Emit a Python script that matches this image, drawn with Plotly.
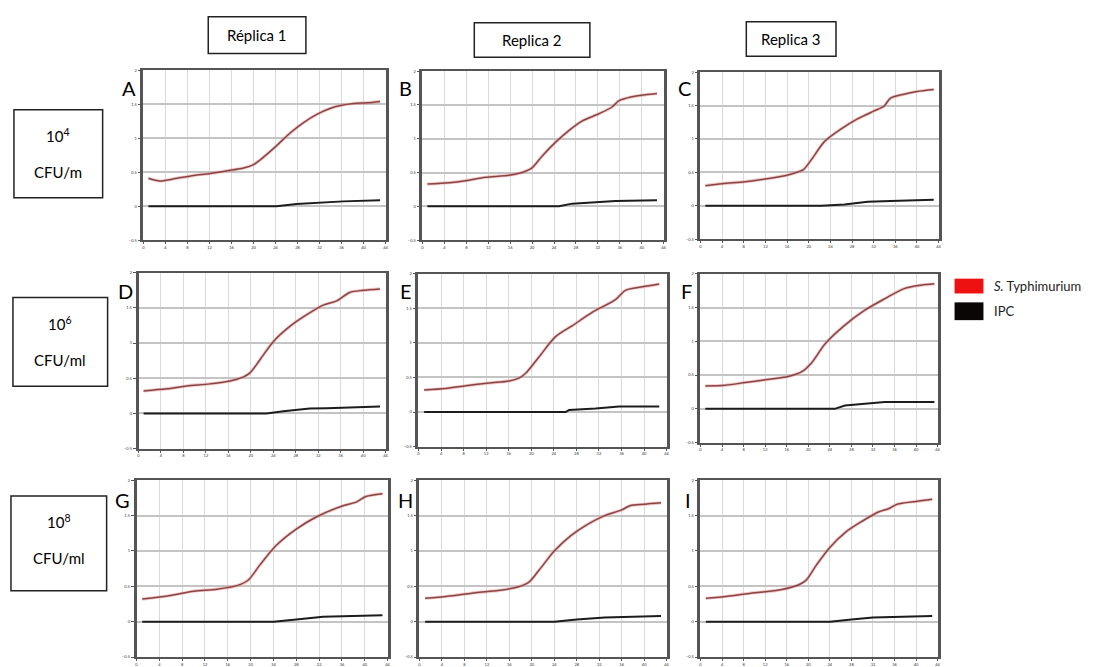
import plotly.graph_objects as go

# ---------------- data ----------------
panel_letters = ["A", "B", "C", "D", "E", "F", "G", "H", "I"]
column_titles = ["Réplica 1", "Replica 2", "Replica 3"]
row_exponents = ["4", "6", "8"]
row_units = ["CFU/m", "CFU/ml", "CFU/ml"]
series_names = ["S. Typhimurium", "IPC"]

x_tick_vals = [0, 4, 8, 12, 16, 20, 24, 28, 32, 36, 40, 44]
y_tick_vals = [-0.5, 0, 0.5, 1.0, 1.5, 2.0]

a_red_x = [0.9, 3.0, 6.1, 9.1, 12.1, 15.2, 18.2, 20.0, 21.8, 24.2, 26.7, 29.1, 31.5, 34.0, 35.8, 38.2, 40.6, 43.0]
a_red_y = [0.41, 0.37, 0.41, 0.45, 0.48, 0.52, 0.56, 0.61, 0.72, 0.89, 1.08, 1.23, 1.35, 1.44, 1.48, 1.51, 1.52, 1.54]
a_ipc_x = [0.9, 24.2, 27.8, 32.0, 36.3, 43.0]
a_ipc_y = [0.0, 0.0, 0.03, 0.05, 0.07, 0.085]

b_red_x = [0.9, 4.9, 7.9, 11.5, 15.8, 18.8, 20.0, 21.9, 24.3, 26.7, 29.1, 32.2, 34.6, 35.8, 38.2, 40.7, 42.8]
b_red_y = [0.33, 0.35, 0.38, 0.43, 0.46, 0.52, 0.57, 0.75, 0.95, 1.12, 1.26, 1.37, 1.47, 1.56, 1.62, 1.65, 1.67]
b_ipc_x = [0.9, 24.9, 27.3, 31.0, 35.2, 42.8]
b_ipc_y = [0.0, 0.0, 0.04, 0.06, 0.08, 0.09]

c_red_x = [0.9, 4.0, 8.3, 11.9, 15.6, 17.4, 19.0, 20.5, 22.9, 26.0, 29.0, 32.1, 33.9, 35.1, 37.6, 40.0, 43.1]
c_red_y = [0.30, 0.33, 0.36, 0.40, 0.45, 0.49, 0.54, 0.69, 0.96, 1.15, 1.30, 1.42, 1.49, 1.61, 1.67, 1.71, 1.74]
c_ipc_x = [0.9, 22.3, 26.6, 30.9, 35.1, 43.1]
c_ipc_y = [0.0, 0.0, 0.02, 0.06, 0.07, 0.09]

d_red_x = [0.9, 5.0, 8.6, 12.7, 16.3, 18.7, 19.9, 21.6, 24.0, 27.0, 29.9, 32.9, 35.3, 37.6, 40.0, 43.0]
d_red_y = [0.32, 0.35, 0.39, 0.42, 0.46, 0.52, 0.58, 0.76, 1.02, 1.24, 1.40, 1.54, 1.60, 1.72, 1.75, 1.77]
d_ipc_x = [0.9, 22.8, 25.8, 30.5, 33.5, 43.0]
d_ipc_y = [0.0, 0.0, 0.03, 0.07, 0.075, 0.10]

e_red_x = [1.0, 4.8, 8.4, 12.5, 16.1, 17.8, 19.0, 21.4, 24.3, 27.3, 30.8, 35.0, 36.7, 39.7, 42.7]
e_red_y = [0.32, 0.34, 0.38, 0.42, 0.45, 0.49, 0.56, 0.80, 1.09, 1.25, 1.44, 1.63, 1.76, 1.81, 1.85]
e_ipc_x = [1.0, 26.1, 26.7, 31.4, 35.6, 42.7]
e_ipc_y = [0.0, 0.0, 0.03, 0.05, 0.08, 0.08]

f_red_x = [0.9, 4.6, 8.3, 12.0, 16.3, 18.8, 20.6, 23.1, 26.8, 30.5, 34.2, 37.8, 40.9, 43.4]
f_red_y = [0.34, 0.35, 0.39, 0.43, 0.48, 0.55, 0.68, 0.96, 1.24, 1.46, 1.63, 1.78, 1.83, 1.85]
f_ipc_x = [0.9, 24.9, 26.8, 30.5, 34.2, 43.4]
f_ipc_y = [0.0, 0.0, 0.05, 0.07, 0.10, 0.10]

g_red_x = [1.0, 5.9, 10.0, 14.1, 17.6, 19.6, 21.6, 24.5, 28.0, 31.5, 36.2, 38.5, 40.2, 43.1]
g_red_y = [0.32, 0.37, 0.43, 0.46, 0.51, 0.59, 0.80, 1.08, 1.31, 1.48, 1.64, 1.69, 1.77, 1.81]
g_ipc_x = [1.0, 24.0, 28.0, 32.7, 43.1]
g_ipc_y = [0.0, 0.0, 0.03, 0.07, 0.09]

h_red_x = [1.0, 5.0, 10.0, 14.0, 17.5, 19.5, 21.5, 24.0, 27.0, 30.0, 33.0, 36.0, 37.5, 40.0, 43.0]
h_red_y = [0.33, 0.36, 0.41, 0.44, 0.49, 0.56, 0.75, 1.00, 1.22, 1.38, 1.50, 1.58, 1.64, 1.66, 1.68]
h_ipc_x = [1.0, 24.0, 28.0, 33.0, 43.0]
h_ipc_y = [0.0, 0.0, 0.03, 0.06, 0.08]

i_red_x = [1.0, 5.0, 10.0, 14.0, 17.5, 19.5, 21.5, 24.0, 27.0, 30.0, 33.0, 35.0, 36.5, 40.0, 43.0]
i_red_y = [0.33, 0.36, 0.41, 0.44, 0.50, 0.58, 0.80, 1.05, 1.27, 1.42, 1.55, 1.60, 1.66, 1.70, 1.73]
i_ipc_x = [1.0, 24.0, 28.0, 32.0, 43.0]
i_ipc_y = [0.0, 0.0, 0.03, 0.06, 0.08]

panels = [
    (a_red_x, a_red_y, a_ipc_x, a_ipc_y), (b_red_x, b_red_y, b_ipc_x, b_ipc_y), (c_red_x, c_red_y, c_ipc_x, c_ipc_y),
    (d_red_x, d_red_y, d_ipc_x, d_ipc_y), (e_red_x, e_red_y, e_ipc_x, e_ipc_y), (f_red_x, f_red_y, f_ipc_x, f_ipc_y),
    (g_red_x, g_red_y, g_ipc_x, g_ipc_y), (h_red_x, h_red_y, h_ipc_x, h_ipc_y), (i_red_x, i_red_y, i_ipc_x, i_ipc_y),
]

# ---------------- layout geometry (pixels) ----------------
W, H = 1113, 667
panel_px = [
    (143, 386, 68, 240), (423, 665, 69, 240), (702, 941, 70, 239),
    (138, 386, 273, 451), (419, 668, 274, 449), (702, 940, 274, 445),
    (136, 388, 483, 662), (420, 668, 483, 662), (702, 940, 483, 662),
]
letter_px = [(128, 86), (406, 86), (686, 86), (125, 292), (406, 292), (688, 292), (122, 503), (406, 503), (689, 503)]

FONT = "Lato"
RED = "#874646"
BLACK = "#1c1c1c"

def px(x):
    return x / W

def py(y):
    return 1 - y / H

fig = go.Figure()
layout = dict(
    width=W, height=H, margin=dict(l=0, r=0, t=0, b=0),
    paper_bgcolor="white", plot_bgcolor="white", showlegend=False,
    font=dict(family=FONT, color="black"),
)
annotations = []
shapes = []

for k, (rx, ry, bx, by) in enumerate(panels):
    n = k + 1
    xa = "x" if n == 1 else f"x{n}"
    ya = "y" if n == 1 else f"y{n}"
    fig.add_trace(go.Scatter(x=bx, y=by, mode="lines",
                             line=dict(color=BLACK, width=2.0),
                             xaxis=xa, yaxis=ya, name=series_names[1], hoverinfo="skip"))
    fig.add_trace(go.Scatter(x=rx, y=ry, mode="lines",
                             line=dict(color="rgba(235,140,140,0.5)", width=3.2, shape="spline", smoothing=0.8),
                             xaxis=xa, yaxis=ya, hoverinfo="skip"))
    fig.add_trace(go.Scatter(x=rx, y=ry, mode="lines",
                             line=dict(color=RED, width=1.5, shape="spline", smoothing=0.8),
                             xaxis=xa, yaxis=ya, name=series_names[0], hoverinfo="skip"))
    x0, x1, y0, y1 = panel_px[k]
    xkey = "xaxis" if n == 1 else f"xaxis{n}"
    ykey = "yaxis" if n == 1 else f"yaxis{n}"
    layout[xkey] = dict(
        domain=[px(x0), px(x1)], anchor=ya, range=[0, 44], tickvals=x_tick_vals,
        showgrid=True, gridcolor="#dadada", gridwidth=1, zeroline=False,
        showline=True, linecolor="#555555", linewidth=2, mirror=True,
        ticks="outside", ticklen=2, tickcolor="#555555",
        tickfont=dict(size=4, color="#333"),
    )
    layout[ykey] = dict(
        domain=[py(y1), py(y0)], anchor=xa, range=[-0.5, 2.0], tickvals=y_tick_vals,
        showgrid=True, gridcolor="#c4c4c4", gridwidth=2, zeroline=False,
        showline=True, linecolor="#555555", linewidth=2.5, mirror=True,
        ticks="outside", ticklen=3, tickcolor="#555555",
        tickfont=dict(size=4, color="#333"),
    )
    lx, ly = letter_px[k]
    annotations.append(dict(x=px(lx), y=py(ly), xref="paper", yref="paper", text=panel_letters[k],
                            showarrow=False, font=dict(size=20, family=FONT, color="black"),
                            xanchor="center", yanchor="middle"))

# column title boxes
col_boxes = [(208, 306, 14, 51), (475, 591, 20, 55), (748, 838, 19, 54)]
for (x0, x1, y0, y1), t in zip(col_boxes, column_titles):
    shapes.append(dict(type="rect", xref="paper", yref="paper", x0=px(x0), x1=px(x1), y0=py(y1), y1=py(y0),
                       line=dict(color="#222", width=1.5), fillcolor="rgba(0,0,0,0)"))
    annotations.append(dict(x=px((x0 + x1) / 2), y=py((y0 + y1) / 2), xref="paper", yref="paper", text=t,
                            showarrow=False, font=dict(size=15, family=FONT, color="black"),
                            xanchor="center", yanchor="middle"))

# row label boxes
row_boxes = [(13, 102, 108, 197), (12, 107, 298, 388), (10, 106, 499, 595)]
for (x0, x1, y0, y1), e, u in zip(row_boxes, row_exponents, row_units):
    shapes.append(dict(type="rect", xref="paper", yref="paper", x0=px(x0), x1=px(x1), y0=py(y1), y1=py(y0),
                       line=dict(color="#222", width=1.5), fillcolor="rgba(0,0,0,0)"))
    cx = (x0 + x1) / 2
    annotations.append(dict(x=px(cx), y=py(y0 + 26), xref="paper", yref="paper", text=f"10<sup>{e}</sup>",
                            showarrow=False, font=dict(size=15, family=FONT, color="black"),
                            xanchor="center", yanchor="middle"))
    annotations.append(dict(x=px(cx), y=py(y0 + 63), xref="paper", yref="paper", text=u,
                            showarrow=False, font=dict(size=15, family=FONT, color="black"),
                            xanchor="center", yanchor="middle"))

# legend
legend_items = [("#ee1111", "<i>S.</i> Typhimurium", 279, 294), ("#0a0606", "IPC", 303, 321)]
for color, label, y0, y1 in legend_items:
    shapes.append(dict(type="rect", xref="paper", yref="paper", x0=px(957), x1=px(986), y0=py(y1), y1=py(y0),
                       line=dict(width=0), fillcolor=color))
    annotations.append(dict(x=px(995), y=py((y0 + y1) / 2), xref="paper", yref="paper", text=label,
                            showarrow=False, font=dict(size=13, family=FONT, color="#222"),
                            xanchor="left", yanchor="middle"))

layout["annotations"] = annotations
layout["shapes"] = shapes
fig.update_layout(**layout)
fig.write_html("out.html")
